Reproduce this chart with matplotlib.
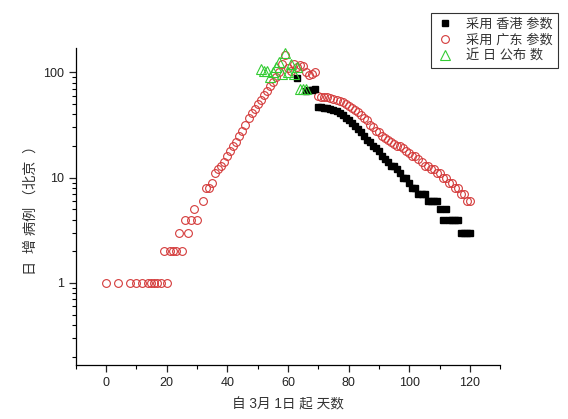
import matplotlib
matplotlib.use('Agg')
import matplotlib.pyplot as plt
from matplotlib.ticker import LogLocator, FixedLocator, MultipleLocator, NullFormatter

plt.rcParams['font.family'] = ['Liberation Sans', 'Noto Sans CJK SC', 'DejaVu Sans']

# 采用广东参数 (red circles)
gd_x = [0, 4, 8, 10, 12, 14, 15, 16, 17, 18, 19, 20, 21, 22, 23, 24, 25, 26, 27, 28, 29, 30, 32, 33, 34,
        35, 36, 37, 38, 39, 40, 41, 42, 43, 44, 45, 46, 47, 48, 49, 50, 51, 52, 53, 54, 55, 56, 57, 58, 59,
        60, 61, 62, 63, 64, 65, 66, 67, 68, 69,
        70, 71, 72, 73, 74, 75, 76, 77, 78, 79, 80, 81, 82, 83, 84, 85, 86, 87, 88, 89, 90, 91, 92, 93, 94,
        95, 96, 97, 98, 99, 100, 101, 102, 103, 104, 105, 106, 107, 108, 109, 110, 111, 112, 113, 114, 115,
        116, 117, 118, 119, 120]
gd_y = [1, 1, 1, 1, 1, 1, 1, 1, 1, 1, 2, 1, 2, 2, 2, 3, 2, 4, 3, 4, 5, 4, 6, 8, 8,
        9, 11, 12, 13, 14, 16, 18, 20, 22, 25, 28, 32, 37, 41, 45, 50, 55, 61, 67, 74, 82, 90, 100, 120, 145,
        110, 103, 120, 112, 118, 115, 100, 95, 97, 102,
        60, 59, 58, 58, 57, 56, 55, 54, 52, 50, 48, 46, 44, 42, 39, 37, 35, 32, 30, 28, 27, 25, 24, 23, 22,
        21, 20, 20, 19, 18, 17, 16, 16, 15, 14, 13, 13, 12, 12, 11, 11, 10, 10, 9, 9, 8,
        8, 7, 7, 6, 6]

# 采用香港参数 (black squares)
hk_x = [63, 66, 67, 68, 69,
        70, 71, 72, 73, 74, 75, 76, 77, 78, 79, 80, 81, 82, 83, 84, 85, 86, 87, 88, 89, 90, 91, 92, 93, 94,
        95, 96, 97, 98, 99, 100, 101, 102, 103, 104, 105, 106, 107, 108, 109, 110, 111, 112, 113, 114, 115,
        116, 117, 118, 119, 120]
hk_y = [88, 66, 68, 68, 69,
        47, 47, 46, 46, 45, 44, 43, 41, 39, 37, 35, 33, 31, 29, 27, 25, 23, 22, 20, 19, 18, 16, 15, 14, 13,
        13, 12, 11, 10, 10, 9, 8, 8, 7, 7, 7, 6, 6, 6, 6, 5, 4, 5, 4, 4, 4,
        4, 3, 3, 3, 3]

# 近日公布数 (green triangles)
rep_x = [51, 52, 53, 54, 55, 56, 57, 58, 59, 60, 61, 62, 63, 64, 65, 66]
rep_y = [107, 104, 103, 90, 102, 112, 125, 97, 152, 101, 120, 97, 112, 69, 70, 69]

fig = plt.figure(figsize=(5.68, 4.19), dpi=100)
ax = fig.add_axes([0.133, 0.128, 0.748, 0.757])

ax.plot(gd_x, gd_y, 'o', ls='none', ms=5.6, mfc='none', mec='#d43a3a', mew=0.8,
        label='采用 广东 参数', zorder=2)
ax.plot(hk_x, hk_y, 's', ls='none', ms=4.8, mfc='black', mec='black',
        label='采用 香港 参数', zorder=3)
ax.plot(rep_x, rep_y, '^', ls='none', ms=6.5, mfc='none', mec='#33cc33', mew=0.8,
        label='近 日 公布 数', zorder=4)

ax.set_yscale('log')
ax.set_xlim(-10, 130)
ax.set_ylim(0.165, 170)

ax.xaxis.set_major_locator(FixedLocator([0, 20, 40, 60, 80, 100, 120]))
ax.xaxis.set_minor_locator(MultipleLocator(10))
ax.yaxis.set_major_locator(FixedLocator([1, 10, 100]))
ax.yaxis.set_major_formatter(matplotlib.ticker.FixedFormatter(['1', '10', '100']))
ax.yaxis.set_minor_locator(LogLocator(base=10, subs=[2, 3, 4, 5, 6, 7, 8, 9]))
ax.yaxis.set_minor_formatter(NullFormatter())

for s in ['top', 'right']:
    ax.spines[s].set_visible(False)
for s in ['left', 'bottom']:
    ax.spines[s].set_linewidth(0.9)

ax.tick_params(which='major', direction='out', length=5, width=0.9, labelsize=9, colors='#222222')
ax.tick_params(which='minor', direction='out', length=3, width=0.8)

ax.set_xlabel('自 3月 1日 起 天数', fontsize=9.8, color='#333333', labelpad=6)
ax.set_ylabel('日  增 病例 （北京  ）', fontsize=10.2, color='#333333', labelpad=4)

h, l = ax.get_legend_handles_labels()
order = [1, 0, 2]
leg = fig.legend([h[i] for i in order], [l[i] for i in order], loc='upper right',
                 bbox_to_anchor=(0.982, 0.969), fontsize=9.5, frameon=True, fancybox=False,
                 edgecolor='black', handlelength=1.2, handletextpad=1.0, borderpad=0.4,
                 labelspacing=0.25, borderaxespad=0)
leg.get_frame().set_linewidth(0.8)
for t in leg.get_texts():
    t.set_color('#333333')

fig.savefig('out.png', dpi=100)
